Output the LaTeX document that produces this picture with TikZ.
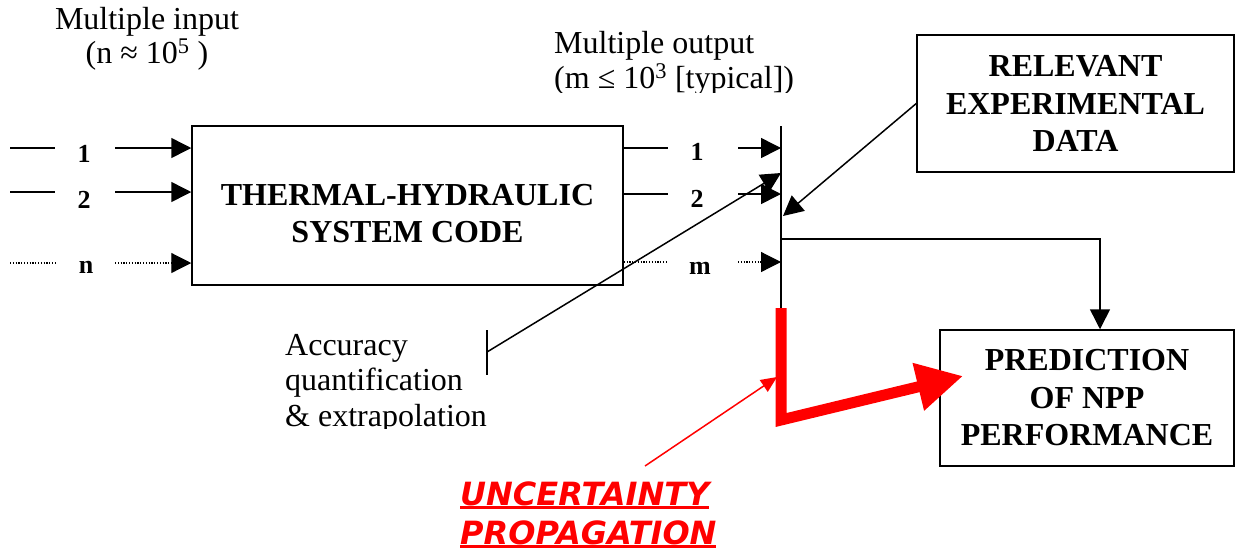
\documentclass[tikz,border=0pt]{standalone}
\usepackage{fontspec}
\setmainfont{Liberation Serif}
\newfontfamily\uncfont{DejaVu Sans}[BoldFont={DejaVu Sans Bold},ItalicFont={DejaVu Sans Oblique},BoldItalicFont={DejaVu Sans Bold Oblique}]
\usetikzlibrary{arrows.meta,calc}
\newcommand{\myul}[1]{\setbox0\hbox{#1}\rlap{\rule[-4pt]{\wd0}{3pt}}\box0}
\tikzset{
  box/.style={draw, line width=1.5pt, inner sep=0pt},
  bt/.style={font=\fontsize{32}{37.5}\selectfont\bfseries, align=center, inner sep=0pt},
  plain/.style={font=\fontsize{32}{35}\selectfont, inner sep=0pt},
  lbl/.style={font=\fontsize{26}{28}\selectfont\bfseries, inner sep=0pt, anchor=base},
  conn/.style={line width=1.5pt},
  arr/.style={line width=1.5pt, -{Triangle[length=20pt,width=20pt]}},
  dotln/.style={line width=1.2pt, dash pattern=on 1.2pt off 1.6pt},
}
\begin{document}
\begin{tikzpicture}[x=1pt,y=-1pt]
\useasboundingbox (0,0) rectangle (1236,550);
\fill[white] (0,0) rectangle (1236,550);

% boxes
\node[box, minimum width=431pt, minimum height=159pt] (code) at (407.5,205.5) {};
\node[bt] (codet) at ($(code.center)+(0,8)$) {THERMAL-HYDRAULIC\\SYSTEM CODE};
\node[box, bt, minimum width=317pt, minimum height=137pt] (rel) at (1075.5,103.5) {RELEVANT\\EXPERIMENTAL\\DATA};
\node[box, bt, minimum width=294pt, minimum height=136pt] (pred) at (1087,398) {PREDICTION\\OF NPP\\PERFORMANCE};

% titles
\node[plain, align=center, anchor=base, font=\fontsize{32}{34}\selectfont] (min) at (147,63) {Multiple input\\(n \char"2248\ 10\textsuperscript{5} )};
\begin{scope}
\clip (540,0) rectangle (820,92);
\node[plain, align=left, anchor=base west] (mout) at (554,88) {Multiple output\\(m \char"2264\ 10\textsuperscript{3} [typical])};
\end{scope}
\begin{scope}
\clip (270,320) rectangle (486,428);
\node[plain, align=left, anchor=base west, font=\fontsize{32}{35.5}\selectfont] (acc) at (285,426) {Accuracy\\quantification\\\& extrapolation};
\end{scope}

% input labels and lines
\node[lbl] (i1) at (84,162) {1};
\node[lbl] (i2) at (84,208) {2};
\node[lbl] (in) at (86,273) {n};
\coordinate (i1a) at (10,148); \coordinate (i1b) at (55,148); \coordinate (i1c) at (115,148);
\coordinate (i2a) at (10,192); \coordinate (i2b) at (55,192); \coordinate (i2c) at (115,192);
\coordinate (ina) at (10,263); \coordinate (inb) at (55,263); \coordinate (inc) at (115,263);
\draw[conn] (i1a) -- (i1b);
\draw[arr] (i1c) -- (code.west |- i1c);
\draw[conn] (i2a) -- (i2b);
\draw[arr] (i2c) -- (code.west |- i2c);
\draw[dotln] (ina) -- (inb);
\draw[dotln, -{Triangle[length=20pt,width=20pt]}] (inc) -- (code.west |- inc);

% output bus
\coordinate (bustop) at (781,126);
\coordinate (busbot) at (781,308);
\draw[line width=2pt] (bustop) -- (busbot);

\node[lbl] (o1) at (697,160) {1};
\node[lbl] (o2) at (697,207) {2};
\node[lbl] (om) at (700,274) {m};
\coordinate (o1b) at (668,148); \coordinate (o1c) at (738,148);
\coordinate (o2b) at (668,194); \coordinate (o2c) at (738,194);
\coordinate (omb) at (668,262); \coordinate (omc) at (738,262);
\draw[conn] (code.east |- o1b) -- (o1b);
\draw[arr] (o1c) -- (bustop |- o1c);
\draw[conn] (code.east |- o2b) -- (o2b);
\draw[arr] (o2c) -- (bustop |- o2c);
\draw[dotln] (code.east |- omb) -- (omb);
\draw[dotln, -{Triangle[length=20pt,width=20pt]}] (omc) -- (bustop |- omc);

% accuracy connector
\coordinate (tickt) at (487,330);
\coordinate (tickb) at (487,375);
\coordinate (tickm) at (487,352);
\coordinate (acctip) at (781,173);
\draw[conn] (tickt) -- (tickb);
\draw[arr] (tickm) -- (acctip);

% experimental data connector
\coordinate (reltip) at (783,216);
\draw[arr] (rel.west) -- (reltip);

% bus to prediction
\coordinate (busj) at (781,239);
\coordinate (corner) at (1100,239);
\draw[arr] (busj) -- (corner) -- (pred.north -| corner);

% uncertainty propagation
\coordinate (r1) at (781,308);
\coordinate (r2) at (781,420);
\coordinate (rtip) at (963,376);
\draw[red, line width=11pt, miter limit=10, -{Triangle[length=46pt,width=46pt]}] (r1) -- (r2) -- (rtip);

\node[inner sep=0pt, anchor=base west, align=left, text=red, font=\uncfont\fontsize{32}{39}\selectfont\bfseries\itshape] (unc) at (460,544) {\myul{UNCERTAINTY}\\\myul{PROPAGATION}};
\coordinate (uncs) at (645,466);
\draw[red, line width=1.5pt, -{Triangle[length=16pt,width=14pt]}] (uncs) -- (777,377);
\end{tikzpicture}
\end{document}
